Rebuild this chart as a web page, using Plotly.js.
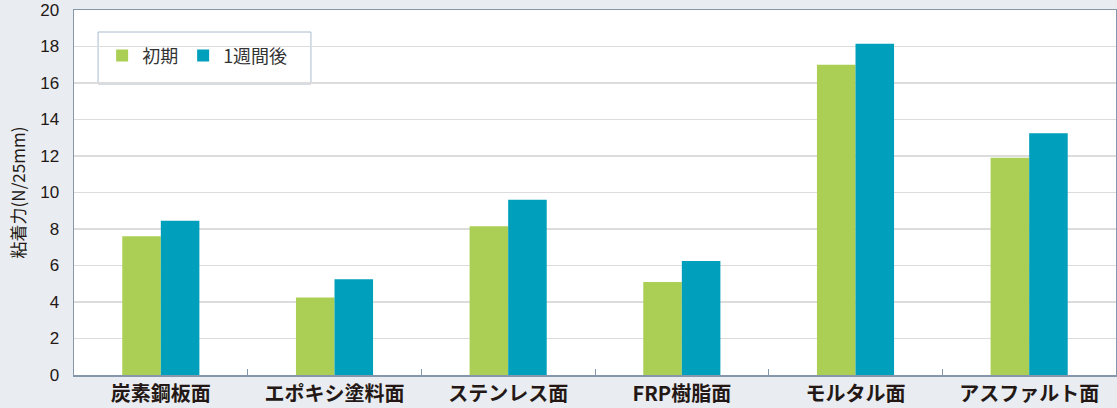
<!DOCTYPE html>
<html>
<head>
<meta charset="utf-8">
<script src="https://cdn.plot.ly/plotly-3.0.1.min.js"></script>
<style>html,body{margin:0;padding:0;background:#e9ecf0;}#chart{width:1117px;height:408px;}</style>
</head>
<body>
<div id="chart"></div>
<script>
const categories = ['炭素鋼板面', 'エポキシ塗料面', 'ステンレス面', 'FRP樹脂面', 'モルタル面', 'アスファルト面'];
const initialValues = [7.6, 4.25, 8.15, 5.1, 17.0, 11.9];
const afterWeekValues = [8.45, 5.25, 9.6, 6.25, 18.15, 13.25];
const seriesNames = ['初期', '1週間後'];
const yTickValues = [0, 2, 4, 6, 8, 10, 12, 14, 16, 18, 20];

const baseFont = 'Liberation Sans, Arial, Noto Sans CJK JP, sans-serif';
const jpFont = 'Noto Sans CJK JP, Liberation Sans, sans-serif';

const traces = [
  {type: 'bar', name: seriesNames[0], x: categories, y: initialValues,
   marker: {color: '#abcf55'}, hoverinfo: 'none'},
  {type: 'bar', name: seriesNames[1], x: categories, y: afterWeekValues,
   marker: {color: '#009fbc'}, hoverinfo: 'none'}
];

const layout = {
  width: 1117, height: 408,
  margin: {l: 74, r: 1, t: 10, b: 33, pad: 0},
  paper_bgcolor: '#e9ecf0',
  plot_bgcolor: '#ffffff',
  barmode: 'group',
  bargap: 0.556,
  bargroupgap: 0,
  showlegend: true,
  legend: {
    orientation: 'h', x: 0.027, y: 0.925, xanchor: 'left', yanchor: 'top',
    bgcolor: 'rgba(0,0,0,0)', borderwidth: 0,
    font: {family: jpFont, size: 18, color: '#333333'},
    itemwidth: 30, itemclick: false, itemdoubleclick: false
  },
  shapes: [{
    type: 'rect', xref: 'paper', yref: 'paper', layer: 'below',
    x0: 0.0231, x1: 0.2274, y0: (375-84)/365, y1: (375-32)/365,
    fillcolor: '#ffffff', line: {color: '#a9bccf', width: 1}
  }],
  xaxis: {
    type: 'category',
    showgrid: false,
    showline: true, linecolor: '#8797ab', linewidth: 1.5, mirror: true,
    ticks: 'inside', tickson: 'boundaries', ticklen: 6, tickcolor: '#8797ab', tickwidth: 1,
    tickfont: {family: jpFont, size: 20, color: '#231815', weight: 'bold'},
    ticklabelstandoff: 0,
    fixedrange: true
  },
  yaxis: {
    range: [0, 20],
    tickvals: yTickValues,
    ticktext: yTickValues.map(String),
    showgrid: true, gridcolor: '#dcdcdc', gridwidth: 1.5,
    zeroline: false,
    showline: true, linecolor: '#8797ab', linewidth: 1.5, mirror: true,
    ticks: '', ticklabelstandoff: 10,
    tickfont: {family: baseFont, size: 17, color: '#231815'},
    title: {text: '粘着力(N/25mm)', font: {family: jpFont, size: 17, color: '#231815'}, standoff: 10},
    fixedrange: true
  },
  font: {family: jpFont}
};

Plotly.newPlot('chart', traces, layout, {displayModeBar: false, staticPlot: true});
</script>
</body>
</html>
